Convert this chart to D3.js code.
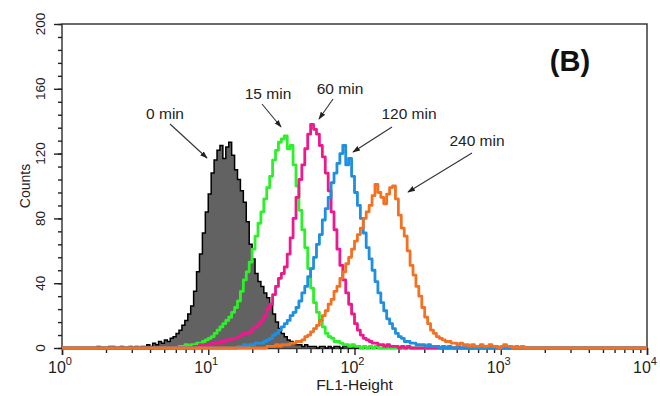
<!DOCTYPE html>
<html><head><meta charset="utf-8">
<script src="https://cdn.jsdelivr.net/npm/d3@7"></script>
<style>
html,body{margin:0;padding:0;background:#fff;}
svg{display:block;font-family:"Liberation Sans",Arial,sans-serif;}
</style></head>
<body>
<svg id="chart" width="660" height="396"></svg>
<script>
// ---- data (log10 channel of first bin, bin width in log10, counts) ----
const binStep = 0.02;
const seriesNames = ["0 min", "15 min", "60 min", "120 min", "240 min"];
const seriesStart = [0.20, 0.80, 0.90, 1.20, 1.40];
const counts0 = [0,0,1,0,0,0,1,1,0,0,1,0,0,1,0,1,0,1,1,2,1,3,2,4,3,5,4,6,7,9,11,14,17,21,26,35,47,58,71,84,95,108,116,122,125,117,124,127,119,110,104,97,90,78,64,55,46,41,38,34,31,27,21,16,12,9,7,5,4,3,2,2,1,2,1,1,1,0,1,1,0,1,0,1,1,0,1,1,0,1,0];
const counts15 = [1,1,2,1,2,2,3,3,4,5,6,7,9,11,13,15,17,19,22,25,29,35,42,47,53,61,69,77,84,92,99,106,116,122,127,129,131,123,125,113,100,85,73,62,49,37,28,22,17,13,9,7,6,4,4,3,2,2,1,2,1,1,0,1,0,1,0,1,0,0,0];
const counts60 = [1,1,2,1,2,2,3,3,3,4,4,5,5,6,6,7,8,9,9,10,12,13,15,17,20,24,27,33,38,43,46,50,58,68,80,93,104,113,123,132,138,135,132,125,118,108,97,84,73,61,51,42,34,27,21,15,11,8,6,5,4,3,3,2,2,1,2,1,1,1,0,1,0,1,0,0];
const counts120 = [1,1,2,1,2,2,3,3,3,4,5,6,8,9,11,13,15,17,20,22,25,29,34,38,44,49,56,64,70,79,86,93,102,108,114,120,125,113,117,106,96,88,80,71,62,55,48,41,34,28,23,18,15,12,9,7,6,4,4,3,3,2,2,2,1,2,1,1,1,0,1,0,1,0,0,1,0,0,0,0,0];
const counts240 = [1,1,1,2,1,2,2,2,3,3,4,4,5,7,8,10,12,14,17,20,23,27,30,35,38,43,47,52,56,61,66,70,74,80,84,88,94,101,96,93,89,95,99,100,92,82,74,69,60,51,45,38,32,25,19,15,11,9,7,6,5,4,4,3,3,2,3,2,2,1,2,1,1,2,1,1,2,1,1,0,1,2,1,1,0,1,0,1,0,0,0];
const seriesCounts = [counts0, counts15, counts60, counts120, counts240];
const seriesColors = ["#000000", "#2ef02a", "#ec1a8c", "#1f8fe0", "#f27122"];
const xTickValues = [1, 10, 100, 1000, 10000];
const xTickExponents = ["0", "1", "2", "3", "4"];
const yTickValues = [0, 40, 80, 120, 160, 200];

const svg = d3.select("#chart");
const M = {left: 62, right: 647, top: 24, bottom: 348};
const x = d3.scaleLog().domain([1, 10000]).range([M.left, M.right]);
const y = d3.scaleLinear().domain([0, 200]).range([M.bottom, M.top]);

// frame
svg.append("path")
  .attr("d", `M${M.left},${M.bottom}V${M.top}H${M.right}V${M.bottom}`)
  .attr("fill", "none").attr("stroke", "#3a3a3a").attr("stroke-width", 1.5);

// x axis
const minorX = [];
for (let e = 0; e < 4; e++) for (let m = 2; m <= 9; m++) minorX.push(m * Math.pow(10, e));
const xAxisG = svg.append("g").attr("transform", `translate(0,${M.bottom})`);
xAxisG.call(d3.axisBottom(x).tickValues(minorX).tickSize(5).tickFormat(""))
  .call(a => a.select(".domain").remove());
xAxisG.append("g").call(d3.axisBottom(x).tickValues(xTickValues).tickSize(7).tickFormat(""))
  .call(a => a.select(".domain").attr("stroke", "#3a3a3a").attr("stroke-width", 1.5));
xAxisG.selectAll(".tick line").attr("stroke", "#222").attr("stroke-width", 1.4);
const xl = svg.append("g").selectAll("text").data(xTickValues).join("text")
  .attr("x", d => x(d) - 2).attr("y", 373)
  .attr("text-anchor", "middle").attr("font-size", 16).attr("fill", "#222");
xl.append("tspan").text("10");
xl.append("tspan").attr("dy", -8).attr("font-size", 11).text((d, i) => xTickExponents[i]);
svg.append("text").attr("x", (M.left + M.right) / 2).attr("y", 390)
  .attr("text-anchor", "middle").attr("font-size", 15.5).attr("fill", "#222").text("FL1-Height");

// y axis
const minorY = d3.range(0, 201, 8);
const yAxisG = svg.append("g").attr("transform", `translate(${M.left},0)`);
yAxisG.call(d3.axisLeft(y).tickValues(minorY).tickSize(4).tickFormat(""))
  .call(a => a.select(".domain").remove());
yAxisG.append("g").call(d3.axisLeft(y).tickValues(yTickValues).tickSize(8).tickFormat(""))
  .call(a => a.select(".domain").remove());
yAxisG.selectAll(".tick line").attr("stroke", "#222").attr("stroke-width", 1.4);
svg.append("g").selectAll("text").data(yTickValues).join("text")
  .attr("transform", d => `translate(45,${y(d)}) rotate(-90)`)
  .attr("text-anchor", "middle").attr("font-size", 13.5).attr("fill", "#222").text(d => d);
svg.append("text").attr("transform", `translate(30,${(M.top + M.bottom) / 2}) rotate(-90)`)
  .attr("text-anchor", "middle").attr("font-size", 14).attr("fill", "#222").text("Counts");

// series -> points
function pts(i) {
  const arr = [[1, 0]];
  const s = seriesStart[i];
  seriesCounts[i].forEach((c, k) => arr.push([Math.pow(10, s + k * binStep), c]));
  arr.push([Math.pow(10, s + seriesCounts[i].length * binStep), 0]);
  arr.push([10000, 0]);
  return arr;
}
const line = d3.line().x(d => x(d[0])).y(d => y(d[1])).curve(d3.curveStepAfter);
const area = d3.area().x(d => x(d[0])).y0(y(0)).y1(d => y(d[1])).curve(d3.curveStepAfter);

const g = svg.append("g");
g.append("path").attr("d", area(pts(0))).attr("fill", "#626262");
g.append("path").attr("d", line(pts(0))).attr("fill", "none").attr("stroke", "#000").attr("stroke-width", 1.5);
for (let i = 1; i < 5; i++) {
  g.append("path").attr("d", line(pts(i))).attr("fill", "none")
    .attr("stroke", seriesColors[i]).attr("stroke-width", 2.8).attr("stroke-linejoin", "round");
}

// annotations
const defs = svg.append("defs");
defs.append("marker").attr("id", "ah").attr("viewBox", "0 0 10 10").attr("refX", 9).attr("refY", 5)
  .attr("markerWidth", 7).attr("markerHeight", 7).attr("orient", "auto")
  .append("path").attr("d", "M0,1.5L10,5L0,8.5Z").attr("fill", "#222");
const labelPos = [[165, 119], [268, 99], [340, 94], [409, 119], [477, 146]];
const arrows = [[170, 124, 207, 158], [262, 104, 281, 127], [333, 99, 319, 119], [392, 127, 353, 152], [472, 153, 408, 192]];
seriesNames.forEach((n, i) => {
  svg.append("text").attr("x", labelPos[i][0]).attr("y", labelPos[i][1])
    .attr("text-anchor", "middle").attr("font-size", 15.5).attr("fill", "#222").text(n);
  const a = arrows[i];
  svg.append("line").attr("x1", a[0]).attr("y1", a[1]).attr("x2", a[2]).attr("y2", a[3])
    .attr("stroke", "#333").attr("stroke-width", 1.1).attr("marker-end", "url(#ah)");
});
svg.append("text").attr("x", 570).attr("y", 71).attr("text-anchor", "middle")
  .attr("font-size", 29).attr("font-weight", "bold").attr("fill", "#111").text("(B)");
</script>
</body></html>
